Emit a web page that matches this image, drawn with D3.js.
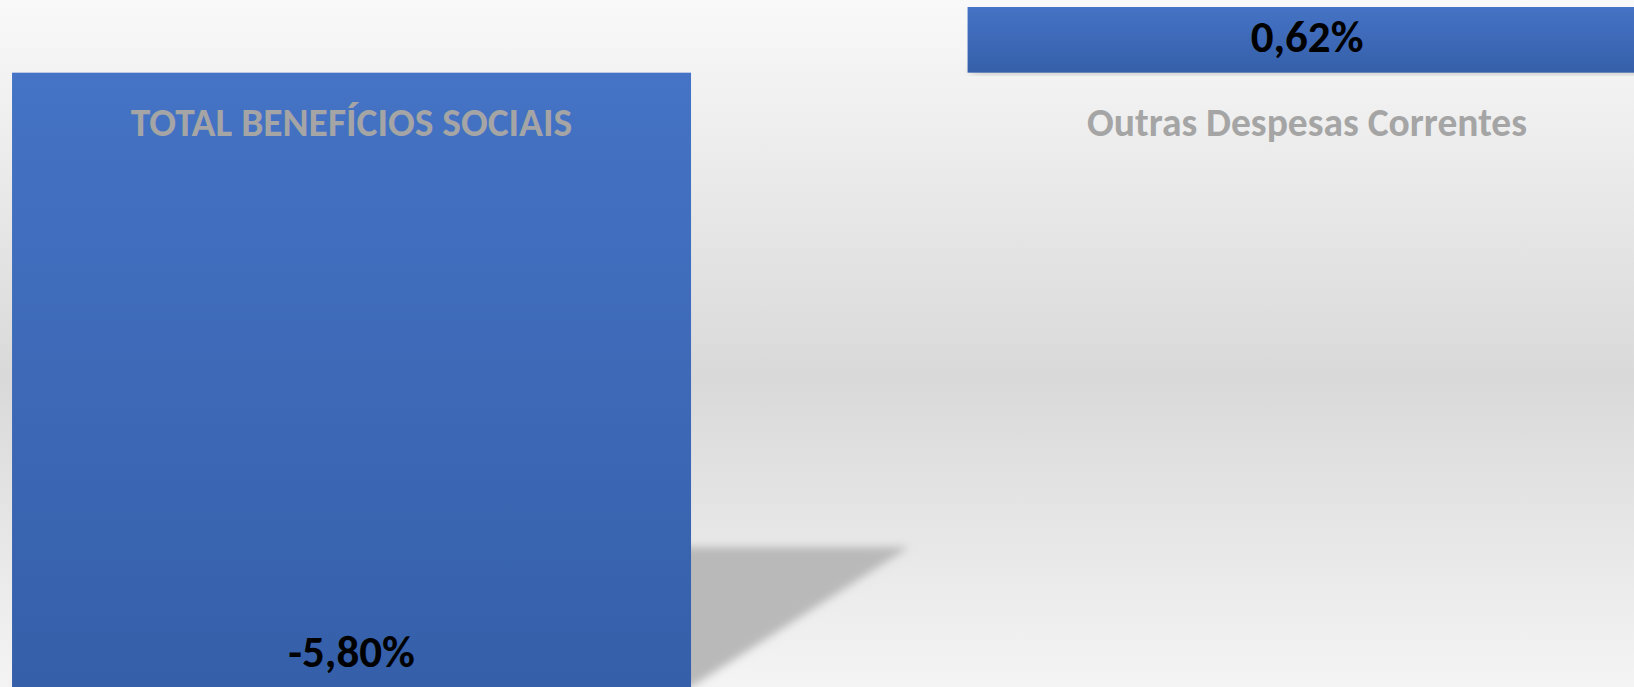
<!DOCTYPE html>
<html><head><meta charset="utf-8">
<script src="https://cdn.jsdelivr.net/npm/d3@7"></script>
<style>html,body{margin:0;padding:0;overflow:hidden;background:#fff}</style>
</head><body><svg id="chart"></svg>
<script>
// ---- data ----
const categories = ["TOTAL BENEFÍCIOS SOCIAIS", "Outras Despesas Correntes"];
const values = [-5.80, 0.62];
const valueLabels = ["-5,80%", "0,62%"];
const yDomain = [-5.80, 0.62];

// ---- layout ----
const W = 1634, H = 687;
const svg = d3.select("#chart").attr("width", W).attr("height", H);
const defs = svg.append("defs");

const bgGrad = defs.append("linearGradient").attr("id", "bg").attr("x1", 0).attr("y1", 0).attr("x2", 0).attr("y2", 1);
[[0, "#f9f9f9"], [0.55, "#d9d9d9"], [1, "#f4f4f4"]].forEach(([o, c]) =>
  bgGrad.append("stop").attr("offset", o).attr("stop-color", c));

const barGrad = defs.append("linearGradient").attr("id", "barg").attr("x1", 0).attr("y1", 0).attr("x2", 0).attr("y2", 1);
[[0, "#4573c5"], [1, "#355fa9"]].forEach(([o, c]) =>
  barGrad.append("stop").attr("offset", o).attr("stop-color", c));

const blur = defs.append("filter").attr("id", "blur").attr("x", "-20%").attr("y", "-20%").attr("width", "140%").attr("height", "140%");
blur.append("feGaussianBlur").attr("stdDeviation", 4);

svg.append("rect").attr("width", W).attr("height", H).attr("fill", "url(#bg)");

const x = d3.scaleBand().domain(categories).range([0, 1658.6]).paddingInner(0.2894).paddingOuter(0.0126);
const y = d3.scaleLinear().domain(yDomain).range([H, 7]);

const data = categories.map((c, i) => ({ c, v: values[i], label: valueLabels[i] }));

// perspective shadows
const shadowScale = 0.228, shear = 1.557;
svg.append("g").selectAll("path").data(data).join("path")
  .attr("d", d => {
    const x0 = x(d.c), x1 = x0 + x.bandwidth();
    const top = Math.min(y(0), y(d.v)), bot = Math.max(y(0), y(d.v));
    const h = (bot - top) * shadowScale, dx = h * shear;
    return `M${x0},${bot}L${x1},${bot}L${x1 + dx},${bot - h}L${x0 + dx},${bot - h}Z`;
  })
  .attr("fill", "#b9b9b9")
  .attr("filter", "url(#blur)");

// bars
svg.append("g").selectAll("rect").data(data).join("rect")
  .attr("x", d => x(d.c))
  .attr("width", x.bandwidth())
  .attr("y", d => Math.min(y(0), y(d.v)))
  .attr("height", d => Math.abs(y(d.v) - y(0)))
  .attr("fill", "url(#barg)");

// category axis at zero
const axis = svg.append("g").attr("transform", `translate(0,${y(0)})`)
  .call(d3.axisBottom(x).tickSize(0).tickPadding(35.6));
axis.select(".domain").remove();
axis.selectAll("text")
  .attr("fill", "#a5a5a5")
  .style("font-family", "Carlito, Lato, 'Liberation Sans', sans-serif")
  .style("font-weight", "bold")
  .style("font-size", "39.5px");

// value labels
svg.append("g").selectAll("text").data(data).join("text")
  .attr("x", d => x(d.c) + x.bandwidth() / 2)
  .attr("y", d => d.v >= 0 ? y(d.v) + 44.7 : y(d.v) - 20)
  .attr("text-anchor", "middle")
  .attr("fill", "#000")
  .style("font-family", "Carlito, Lato, 'Liberation Sans', sans-serif")
  .style("font-weight", "bold")
  .style("font-size", "45px")
  .text(d => d.label);
</script>
</body></html>
